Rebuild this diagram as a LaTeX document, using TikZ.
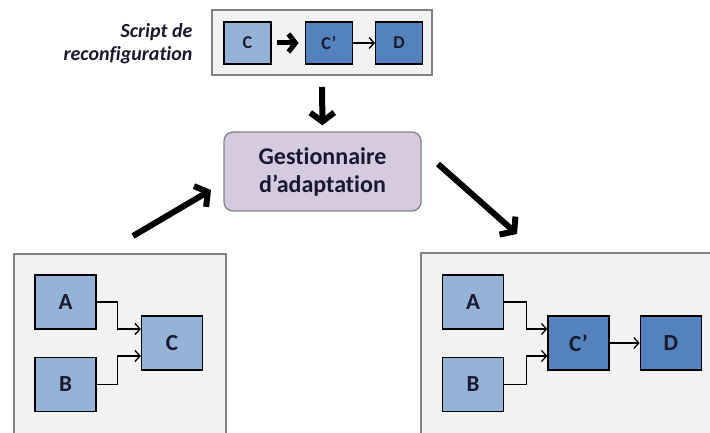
\documentclass[tikz,border=0pt]{standalone}
\usepackage{fontspec}
\setmainfont{Carlito}[Ligatures=NoCommon]
\usepackage{tikz}
\usetikzlibrary{positioning}
\usetikzlibrary{arrows.meta}

\definecolor{lightblue}{RGB}{149,179,215}
\definecolor{darkblue}{RGB}{84,130,190}
\definecolor{lavender}{RGB}{214,202,224}
\definecolor{panelgray}{RGB}{242,242,242}
\definecolor{framegray}{RGB}{130,130,130}
\definecolor{inkdark}{RGB}{25,25,45}

\begin{document}
\begin{tikzpicture}[
            x = 1pt, y = -1pt, % one unit = one pixel, y going down
            > = {Straight Barb[length=5pt,width=11pt]}, % thin arrows
            thinline/.style = {line width=1.3pt, ->},
            bigarrow/.style = {line width=6pt, -{Straight Barb[length=9pt,width=24pt]}},
            panel/.style = {draw = framegray, line width=1.6pt, fill = panelgray},
            comp/.style = {draw = black, line width=1.3pt, fill = lightblue,
                minimum width = 61pt, minimum height = 54pt,
                font = \fontsize{23}{27}\selectfont\bfseries, text = inkdark},
            newcomp/.style = {comp, fill = darkblue},
            smallcomp/.style = {comp, minimum width = 47pt, minimum height = 42pt,
                font = \fontsize{18}{21}\selectfont\bfseries}
        ]

        \useasboundingbox (0,0) rectangle (710,433);
        \clip (0,0) rectangle (710,433);

	% script de reconfiguration
        \node[panel, minimum width = 220pt, minimum height = 65pt] (script) at (322,42.5) {};
        \node[smallcomp] (sC) at (247.5,43) {C};
        \node[smallcomp, fill = darkblue] (sCp) [right = 33pt of sC] {C'};
        \node[smallcomp, fill = darkblue] (sD) [right = 22pt of sCp] {D};

        \draw[line width=5pt, -{Straight Barb[length=7pt,width=18pt]}, shorten < = 5pt, shorten > = 6pt] (sC) -- (sCp);
        \draw[thinline] (sCp) -- (sD);

        \node[anchor = east, align = right, text = inkdark,
              font = \fontsize{20}{23}\selectfont\bfseries\itshape] (scriptlbl) at (196,44)
              {Script de\\reconfiguration};

	% gestionnaire
        \node[draw = framegray, line width=1.3pt, fill = lavender, rounded corners = 9pt,
              minimum width = 197pt, minimum height = 79pt, align = center, text = inkdark,
              font = \fontsize{24}{28}\selectfont\bfseries] (gest) at (322.5,171.5)
              {Gestionnaire\\d'adaptation};

        \draw[bigarrow, shorten < = 11pt, shorten > = 6pt] (script) -- (gest);

         % configuration courante
        \node[panel, minimum width = 212pt, minimum height = 200pt, anchor = north west] (before) at (13,253) {};
        \node[comp] (A1) at (65.5,302) {A};
        \node[comp] (B1) at (65.5,384.5) {B};
        \node[comp] (C1) at (172,343) {C};

        \draw[thinline] (A1.east) -- ++(21,0) |- ([yshift=14pt]C1.west);
        \draw[thinline] (B1.east) -- ++(21,0) |- ([yshift=-13pt]C1.west);

         % configuration cible
        \node[panel, minimum width = 300pt, minimum height = 200pt, anchor = north west] (after) at (420,252) {};
        \node[comp] (A2) at (473,302) {A};
        \node[comp] (B2) at (473,384.5) {B};
        \node[newcomp] (Cp2) at (578.5,343) {C'};
        \node[newcomp] (D2) [right = 30pt of Cp2] {D};

        \draw[thinline] (A2.east) -- ++(22,0) |- ([yshift=14pt]Cp2.west);
        \draw[thinline] (B2.east) -- ++(22,0) |- ([yshift=-13pt]Cp2.west);
        \draw[thinline] (Cp2) -- (D2);

         % adaptation
        \coordinate (inTail) at (133,236);
        \coordinate (inHead) at (211,190);
        \coordinate (outTail) at (438,164);
        \coordinate (outHead) at (517,234);

        \draw[bigarrow] (inTail) -- (inHead);
        \draw[bigarrow] (outTail) -- (outHead);

\end{tikzpicture}
\end{document}
